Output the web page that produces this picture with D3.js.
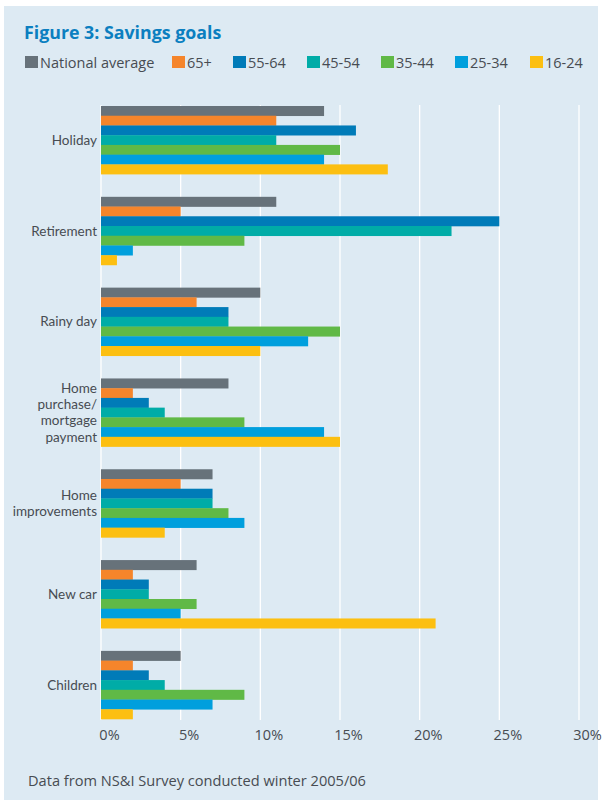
<!DOCTYPE html>
<html>
<head>
<meta charset="utf-8">
<script src="https://cdn.jsdelivr.net/npm/d3@7"></script>
<style>
  body { margin: 0; background: #fff; }
  svg { display: block; font-family: "Open Sans", "Noto Sans", sans-serif; }
</style>
</head>
<body>
<svg id="chart" width="602" height="803"></svg>
<script>
// data
const categories = ["Holiday", "Retirement", "Rainy day", "Home purchase/ mortgage payment",
  "Home improvements", "New car", "Children"];
const categoryLines = [["Holiday"], ["Retirement"], ["Rainy day"],
  ["Home", "purchase/", "mortgage", "payment"], ["Home", "improvements"], ["New car"], ["Children"]];
const seriesNames = ["National average", "65+", "55-64", "45-54", "35-44", "25-34", "16-24"];
const seriesColors = ["#67727a", "#f5852b", "#007bb8", "#00aca7", "#60b946", "#009fdd", "#fcbf11"];
const nationalAverage = [14, 11, 10, 8, 7, 6, 5];
const age65plus = [11, 5, 6, 2, 5, 2, 2];
const age55to64 = [16, 25, 8, 3, 7, 3, 3];
const age45to54 = [11, 22, 8, 4, 7, 3, 4];
const age35to44 = [15, 9, 15, 9, 8, 6, 9];
const age25to34 = [14, 2, 13, 14, 9, 5, 7];
const age16to24 = [18, 1, 10, 15, 4, 21, 2];
const tickValues = [0, 5, 10, 15, 20, 25, 30];

const vis = {

  svg: d3.select("#chart"),

  margin: { left: 101, right: 602 - 579, top: 106, bottom: 803 - 719 },

  series: [nationalAverage, age65plus, age55to64, age45to54, age35to44, age25to34, age16to24],

  background: function() {
    this.svg.append("rect")
      .attr("x", 4).attr("y", 6)
      .attr("width", 594).attr("height", 794)
      .attr("fill", "#ddeaf3");

    this.svg.append("text")
      .attr("x", 24).attr("y", 39)
      .attr("font-size", 17.8).attr("font-weight", "bold")
      .attr("fill", "#0b7fc0")
      .text("Figure 3: Savings goals");

    this.svg.append("text")
      .attr("x", 28).attr("y", 786)
      .attr("font-size", 14.6).attr("fill", "#474c52")
      .text("Data from NS&I Survey conducted winter 2005/06");
  },

  legend: function() {
    const xs = [25, 172, 233, 307, 381, 455, 530];
    const g = this.svg.append("g").selectAll("g")
      .data(seriesNames)
      .join("g")
      .attr("transform", (d, i) => `translate(${xs[i]},56)`);
    g.append("rect").attr("width", 13).attr("height", 12)
      .attr("fill", (d, i) => seriesColors[i]);
    g.append("text").attr("x", 15).attr("y", 11.5)
      .attr("font-size", 14.5).attr("fill", "#474c52")
      .text(d => d);
  },

  draw: function() {
    const m = this.margin;
    const x = d3.scaleLinear().domain([0, 30]).range([m.left, 602 - m.right]);
    const y0 = d3.scaleBand().domain(categories).range([m.top, 803 - m.bottom])
      .paddingInner(0.25).paddingOuter(0);
    const y1 = d3.scaleBand().domain(seriesNames).range([0, y0.bandwidth()]);

    // gridlines
    this.svg.append("g").selectAll("line")
      .data(tickValues)
      .join("line")
      .attr("x1", d => x(d)).attr("x2", d => x(d))
      .attr("y1", m.top - 1).attr("y2", 803 - m.bottom + 1)
      .attr("stroke", "#fff").attr("stroke-width", 1.3);

    const groups = this.svg.append("g").selectAll("g")
      .data(categories)
      .join("g")
      .attr("transform", d => `translate(0,${y0(d)})`);

    groups.selectAll("rect")
      .data((c, ci) => seriesNames.map((s, si) => ({ s, si, v: this.series[si][ci] })))
      .join("rect")
      .attr("x", x(0))
      .attr("y", d => y1(d.s))
      .attr("width", d => x(d.v) - x(0))
      .attr("height", y1.bandwidth() + 0.3)
      .attr("fill", d => seriesColors[d.si]);

    // category labels, one text per line
    const lh = 16.3;
    const rows = [];
    categories.forEach((c, i) => {
      const lines = categoryLines[i];
      const cy = y0(c) + y0.bandwidth() / 2;
      lines.forEach((l, k) => rows.push({ l, y: cy + (k - (lines.length - 1) / 2) * lh + 4.8 }));
    });
    this.svg.append("g").selectAll("text")
      .data(rows)
      .join("text")
      .attr("x", 97)
      .attr("y", d => d.y)
      .attr("text-anchor", "end")
      .attr("font-family", "Lato, sans-serif")
      .attr("font-size", 13.5).attr("fill", "#474c52")
      .text(d => d.l);

    // x axis
    const axis = d3.axisBottom(x).tickValues(tickValues).tickSize(0).tickPadding(0)
      .tickFormat(d => d + "%");
    const ag = this.svg.append("g").attr("transform", "translate(0,730)").call(axis);
    ag.select(".domain").remove();
    ag.selectAll("text")
      .attr("font-size", 14.5).attr("fill", "#474c52")
      .attr("font-family", "\"Open Sans\", sans-serif")
      .attr("dx", 8);
  },

  ctrl: {
    init: function() {
      vis.background();
      vis.legend();
      vis.draw();
    }
  }
};

vis.ctrl.init();
</script>
</body>
</html>
